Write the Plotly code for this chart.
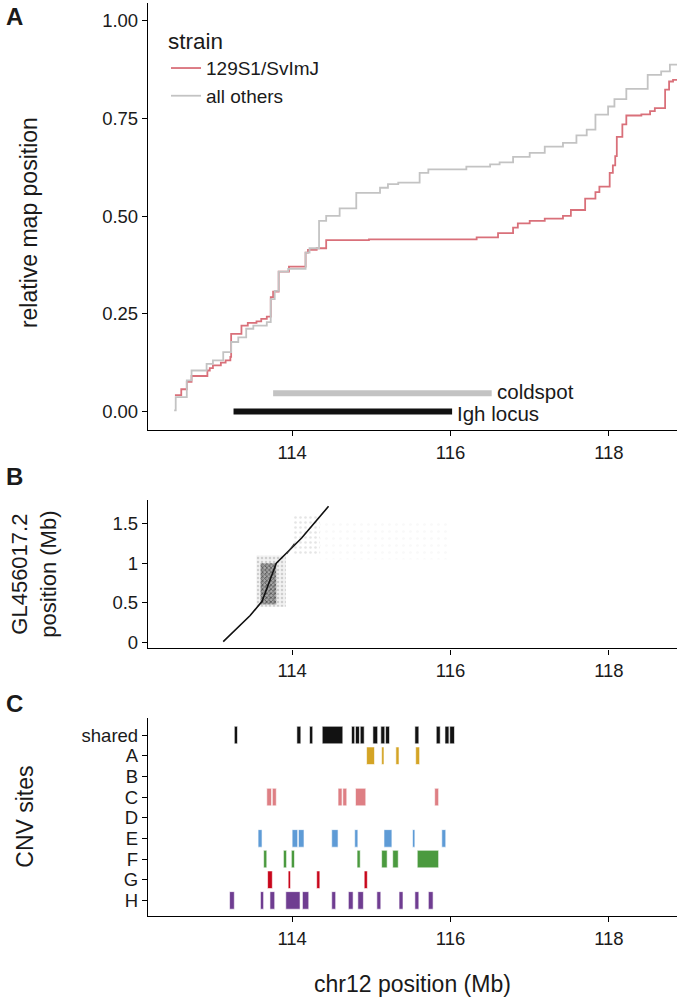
import plotly.graph_objects as go

# ---- panel A: relative map position (step curves) ----
red_x = [112.52, 112.60, 112.67, 112.73, 112.93, 112.96, 113.00, 113.10, 113.16, 113.22,
         113.23, 113.36, 113.44, 113.55, 113.61, 113.68, 113.73, 113.76, 113.83, 113.96,
         114.17, 114.20, 114.31, 114.43, 114.97, 116.33, 116.60, 116.79, 116.85, 117.00,
         117.19, 117.42, 117.52, 117.70, 117.83, 117.88, 118.01, 118.05, 118.08, 118.10,
         118.17, 118.22, 118.41, 118.52, 118.58, 118.71, 118.76, 118.81, 118.90]
red_y = [0.042, 0.057, 0.076, 0.091, 0.105, 0.111, 0.118, 0.125, 0.131, 0.140,
         0.199, 0.220, 0.227, 0.231, 0.237, 0.243, 0.293, 0.307, 0.358, 0.371,
         0.407, 0.414, 0.418, 0.439, 0.441, 0.446, 0.457, 0.471, 0.482, 0.488,
         0.494, 0.501, 0.516, 0.545, 0.562, 0.576, 0.611, 0.630, 0.654, 0.703,
         0.735, 0.758, 0.761, 0.769, 0.777, 0.824, 0.845, 0.849, 0.850]

grey_x = [112.51, 112.53, 112.67, 112.73, 112.92, 113.00, 113.13, 113.23, 113.32, 113.42,
          113.51, 113.68, 113.73, 113.78, 113.83, 113.95, 114.17, 114.22, 114.34, 114.43,
          114.60, 114.81, 115.11, 115.21, 115.34, 115.61, 115.72, 116.20, 116.50, 116.62,
          116.79, 117.00, 117.19, 117.42, 117.59, 117.72, 117.83, 117.99, 118.07, 118.22,
          118.49, 118.66, 118.77, 118.90]
grey_y = [0.003, 0.037, 0.080, 0.105, 0.122, 0.131, 0.152, 0.178, 0.190, 0.212,
          0.220, 0.229, 0.288, 0.309, 0.358, 0.365, 0.407, 0.418, 0.488, 0.501,
          0.520, 0.560, 0.573, 0.582, 0.586, 0.611, 0.620, 0.627, 0.633, 0.638,
          0.652, 0.662, 0.678, 0.688, 0.707, 0.722, 0.760, 0.781, 0.800, 0.826,
          0.862, 0.871, 0.888, 0.895]

coldspot = [113.76, 116.52]
igh_locus = [113.26, 116.02]

# ---- panel B: dot plot vs GL456017.2 ----
diag_x = [113.13, 113.47, 113.62, 113.80, 114.00, 114.12, 114.46]
diag_y = [0.01, 0.34, 0.52, 1.00, 1.20, 1.32, 1.72]
dash_x = [113.93, 114.03]
dash_y = [1.12, 1.25]
block_outer_x = [113.55, 113.92, 113.92, 113.55, 113.55]
block_outer_y = [0.45, 0.45, 1.10, 1.10, 0.45]
block_inner_x = [113.60, 113.80, 113.80, 113.60, 113.60]
block_inner_y = [0.48, 0.48, 1.00, 1.00, 0.48]
cluster_x = [114.02, 114.35, 114.35, 114.02, 114.02]
cluster_y = [1.10, 1.10, 1.62, 1.62, 1.10]
faint_x = [114.35, 116.0, 116.0, 114.35, 114.35]
faint_y = [1.05, 1.05, 1.55, 1.55, 1.05]

# ---- panel C: CNV sites (start, end in Mb) ----
cnv_rows = ["shared", "A", "B", "C", "D", "E", "F", "G", "H"]
cnv_shared = [(113.27, 113.31), (114.06, 114.11), (114.22, 114.26), (114.38, 114.64),
              (114.75, 114.79), (114.80, 114.85), (114.86, 114.91), (115.02, 115.08),
              (115.12, 115.17), (115.18, 115.23), (115.55, 115.60), (115.82, 115.87),
              (115.93, 115.98), (115.99, 116.05)]
cnv_a = [(114.94, 115.04), (115.13, 115.16), (115.31, 115.35), (115.56, 115.61)]
cnv_b = []
cnv_c = [(113.68, 113.74), (113.75, 113.80), (114.58, 114.63), (114.64, 114.69),
         (114.80, 114.93), (115.80, 115.85)]
cnv_d = []
cnv_e = [(113.57, 113.62), (114.00, 114.07), (114.08, 114.15), (114.50, 114.58),
         (114.79, 114.83), (115.16, 115.26), (115.52, 115.55), (115.89, 115.94)]
cnv_f = [(113.64, 113.68), (113.89, 113.93), (113.99, 114.03), (114.82, 114.86),
         (115.13, 115.20), (115.27, 115.34), (115.58, 115.85)]
cnv_g = [(113.69, 113.75), (113.95, 113.98), (114.31, 114.35), (114.91, 114.95)]
cnv_h = [(113.21, 113.27), (113.60, 113.64), (113.72, 113.78), (113.92, 114.10),
         (114.13, 114.21), (114.50, 114.55), (114.71, 114.77), (114.83, 114.90),
         (115.07, 115.12), (115.35, 115.40), (115.55, 115.60), (115.72, 115.78)]
cnv_colors = {"shared": "#121212", "A": "#D4A425", "B": "#888888", "C": "#DE7F84",
              "D": "#888888", "E": "#5E9BD6", "F": "#4B9A3F", "G": "#C8061B", "H": "#6F3D91"}
cnv_data = {"shared": cnv_shared, "A": cnv_a, "B": cnv_b, "C": cnv_c, "D": cnv_d,
            "E": cnv_e, "F": cnv_f, "G": cnv_g, "H": cnv_h}

W, H = 677, 1004
FONT = "Liberation Sans, Arial, sans-serif"
TXT = "#1a1a1a"


def px_x(p):
    return p / W


def px_y(p):
    return 1 - p / H


fig = go.Figure()

# panel A
fig.add_trace(go.Scatter(x=red_x, y=red_y, mode="lines", line_shape="hv", name="129S1/SvImJ",
                         line=dict(color="#D9707A", width=1.8), xaxis="x", yaxis="y"))
fig.add_trace(go.Scatter(x=grey_x, y=grey_y, mode="lines", line_shape="hv", name="all others",
                         line=dict(color="#C3C3C3", width=1.8), xaxis="x", yaxis="y"))
fig.add_trace(go.Scatter(x=coldspot, y=[0.047, 0.047], mode="lines", showlegend=False,
                         line=dict(color="#C3C3C3", width=6), xaxis="x", yaxis="y"))
fig.add_trace(go.Scatter(x=igh_locus, y=[0.0, 0.0], mode="lines", showlegend=False,
                         line=dict(color="#111111", width=6), xaxis="x", yaxis="y"))

# panel B
fig.add_trace(go.Scatter(x=faint_x, y=faint_y, mode="lines", fill="toself", showlegend=False,
                         line=dict(width=0), fillcolor="rgba(0,0,0,0)",
                         fillpattern=dict(shape=".", fgcolor="rgba(0,0,0,0.05)", size=7, solidity=0.12),
                         xaxis="x2", yaxis="y2", hoverinfo="skip"))
fig.add_trace(go.Scatter(x=cluster_x, y=cluster_y, mode="lines", fill="toself", showlegend=False,
                         line=dict(width=0), fillcolor="rgba(0,0,0,0)",
                         fillpattern=dict(shape=".", fgcolor="rgba(0,0,0,0.2)", size=5, solidity=0.2),
                         xaxis="x2", yaxis="y2", hoverinfo="skip"))
fig.add_trace(go.Scatter(x=block_outer_x, y=block_outer_y, mode="lines", fill="toself", showlegend=False,
                         line=dict(width=0), fillcolor="rgba(0,0,0,0.05)",
                         fillpattern=dict(shape=".", fgcolor="rgba(0,0,0,0.3)", size=4, solidity=0.3),
                         xaxis="x2", yaxis="y2", hoverinfo="skip"))
fig.add_trace(go.Scatter(x=block_inner_x, y=block_inner_y, mode="lines", fill="toself", showlegend=False,
                         line=dict(width=0), fillcolor="rgba(0,0,0,0.3)",
                         fillpattern=dict(shape="x", fgcolor="rgba(0,0,0,0.9)", size=3, solidity=0.45),
                         xaxis="x2", yaxis="y2", hoverinfo="skip"))
fig.add_trace(go.Scatter(x=diag_x, y=diag_y, mode="lines", showlegend=False,
                         line=dict(color="#111111", width=1.6), xaxis="x2", yaxis="y2"))
fig.add_trace(go.Scatter(x=dash_x, y=dash_y, mode="lines", showlegend=False,
                         line=dict(color="#333333", width=1.2), xaxis="x2", yaxis="y2"))

# panel C
for row in cnv_rows:
    segs = cnv_data[row]
    if not segs:
        continue
    starts = [s for s, e in segs]
    widths = [e - s for s, e in segs]
    fig.add_trace(go.Bar(orientation="h", y=[row] * len(segs), x=widths, base=starts,
                         width=0.85, marker=dict(color=cnv_colors[row], line=dict(color="white", width=0.6)),
                         showlegend=False, xaxis="x3", yaxis="y3"))

xr = [112.18, 118.86]
tickfont = dict(family=FONT, size=18.5, color=TXT)
common_x = dict(range=xr, tickvals=[114, 116, 118], showline=True, linecolor="black", linewidth=1.3,
                ticks="outside", ticklen=5, tickcolor="black", tickfont=tickfont, showgrid=False,
                zeroline=False, domain=[px_x(148), 1.0])
common_y = dict(showline=True, linecolor="black", linewidth=1.3, ticks="outside", ticklen=5,
                tickcolor="black", tickfont=tickfont, showgrid=False, zeroline=False)

fig.update_layout(
    width=W, height=H, margin=dict(l=0, r=0, t=0, b=0),
    plot_bgcolor="white", paper_bgcolor="white", barmode="overlay",
    font=dict(family=FONT, color=TXT),
    xaxis=dict(common_x, anchor="y"),
    yaxis=dict(common_y, anchor="x", domain=[px_y(432), px_y(3)], range=[-0.048, 1.046],
               tickvals=[0, 0.25, 0.5, 0.75, 1.0], ticktext=["0.00", "0.25", "0.50", "0.75", "1.00"]),
    xaxis2=dict(common_x, anchor="y2"),
    yaxis2=dict(common_y, anchor="x2", domain=[px_y(651), px_y(502)], range=[-0.076, 1.80],
                tickvals=[0, 0.5, 1, 1.5], ticktext=["0", "0.5", "1", "1.5"]),
    xaxis3=dict(common_x, anchor="y3"),
    yaxis3=dict(common_y, anchor="x3", domain=[px_y(920), px_y(721)], type="category",
                categoryorder="array", categoryarray=cnv_rows, range=[8.77, -0.82],
                tickmode="array", tickvals=cnv_rows, ticktext=cnv_rows),
    legend=dict(x=px_x(166), y=px_y(20), xanchor="left", yanchor="top", bgcolor="rgba(0,0,0,0)",
                title=dict(text="strain", font=dict(family=FONT, size=22.5, color=TXT)),
                font=dict(family=FONT, size=19, color=TXT), itemwidth=30, tracegroupgap=0),
)

ann = [
    dict(text="<b>A</b>", x=px_x(4), y=px_y(17), xanchor="left", font=dict(size=24)),
    dict(text="<b>B</b>", x=px_x(4), y=px_y(478), xanchor="left", font=dict(size=24)),
    dict(text="<b>C</b>", x=px_x(4), y=px_y(706), xanchor="left", font=dict(size=24)),
    dict(text="relative map position", x=px_x(29), y=px_y(224), textangle=-90, font=dict(size=23)),
    dict(text="GL456017.2<br>position (Mb)", x=px_x(34), y=px_y(577), textangle=-90, font=dict(size=22)),
    dict(text="CNV sites", x=px_x(25), y=px_y(820), textangle=-90, font=dict(size=23)),
    dict(text="chr12 position (Mb)", x=px_x(412), y=px_y(988), font=dict(size=23)),
]
for a in ann:
    a.setdefault("xanchor", "center")
    a.update(xref="paper", yref="paper", showarrow=False, yanchor="middle")
    a["font"].update(family=FONT, color=TXT)
    fig.add_annotation(**a)

fig.add_annotation(text="coldspot", x=116.56, y=0.052, xref="x", yref="y", xanchor="left",
                   yanchor="middle", showarrow=False, font=dict(family=FONT, size=20.5, color=TXT))
fig.add_annotation(text="Igh locus", x=116.06, y=-0.006, xref="x", yref="y", xanchor="left",
                   yanchor="middle", showarrow=False, font=dict(family=FONT, size=20.5, color=TXT))

fig.write_html("out.html", config={"displayModeBar": False},
               post_script="document.body.style.margin='0';document.body.style.overflow='hidden';")
